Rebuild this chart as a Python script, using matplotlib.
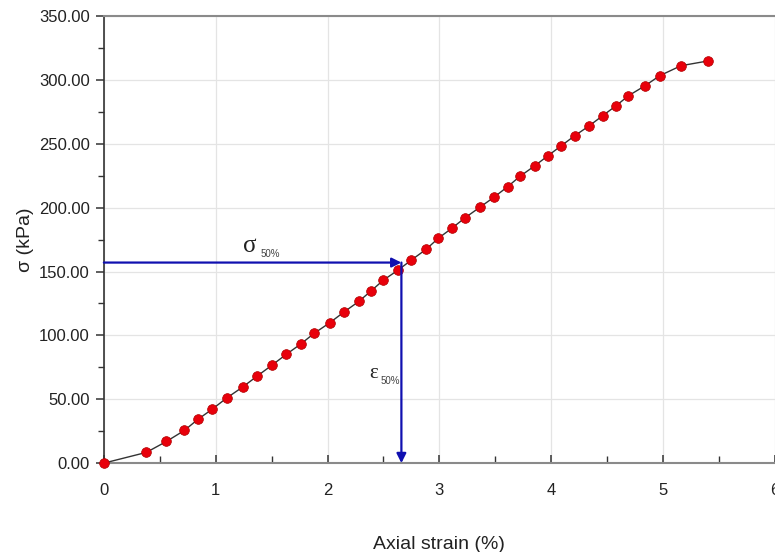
import numpy as np
import matplotlib
matplotlib.use("Agg")
import matplotlib.pyplot as plt
from matplotlib.ticker import MultipleLocator, FormatStrFormatter

plt.rcParams['font.family'] = ['Liberation Sans', 'DejaVu Sans']

# data: axial strain (%) and deviator stress (kPa)
strain = [0.0, 0.38, 0.56, 0.72, 0.84, 0.97, 1.10, 1.24, 1.37, 1.50, 1.63,
          1.76, 1.88, 2.02, 2.15, 2.28, 2.39, 2.50, 2.63, 2.75, 2.88, 2.99,
          3.11, 3.23, 3.36, 3.49, 3.61, 3.72, 3.85, 3.97, 4.09, 4.21, 4.34,
          4.46, 4.58, 4.69, 4.84, 4.97, 5.16, 5.40]
stress = [0.0, 8.4, 17.0, 25.6, 34.2, 42.3, 51.1, 59.5, 68.1, 76.5, 85.1,
          93.2, 101.6, 109.9, 118.5, 126.6, 134.9, 143.3, 151.1, 159.0, 167.3,
          176.0, 183.8, 192.1, 200.2, 208.3, 216.4, 224.5, 232.6, 240.6, 248.5,
          256.3, 264.1, 272.0, 279.8, 287.6, 295.5, 303.3, 311.1, 314.8]

sigma50 = 157.0
eps50 = 2.66

fig = plt.figure(figsize=(7.75, 5.52), dpi=100)
ax = fig.add_axes([0.134, 0.161, 0.866, 0.810])

ax.plot(strain, stress, color='#333333', lw=1.0, zorder=3)
ax.plot(strain, stress, 'o', color='#e8000b', markeredgecolor='#b00000',
        markeredgewidth=0.5, markersize=7, zorder=4, clip_on=False)

# sigma50 / eps50 arrows
arrow = dict(arrowstyle='-|>', color='#1010b0', lw=1.6, mutation_scale=14,
             shrinkA=0, shrinkB=0)
ax.annotate('', xy=(eps50, sigma50), xytext=(0, sigma50), arrowprops=arrow, zorder=5)
ax.annotate('', xy=(eps50, 0), xytext=(eps50, sigma50), arrowprops=arrow, zorder=5)

# labels: serif greek letter + small sans subscript
ax.text(1.245, 161, 'σ', fontsize=18, family='Liberation Serif', color='#222222',
        ha='left', va='bottom')
ax.text(1.40, 160, '50%', fontsize=7, color='#444444', ha='left', va='bottom')
ax.text(2.37, 63, 'ε', fontsize=15, family='Liberation Serif', color='#222222',
        ha='left', va='bottom')
ax.text(2.47, 60, '50%', fontsize=7, color='#444444', ha='left', va='bottom')

ax.set_xlim(0, 6)
ax.set_ylim(0, 350)
ax.xaxis.set_major_locator(MultipleLocator(1))
ax.xaxis.set_minor_locator(MultipleLocator(0.5))
ax.yaxis.set_major_locator(MultipleLocator(50))
ax.yaxis.set_minor_locator(MultipleLocator(25))
ax.yaxis.set_major_formatter(FormatStrFormatter('%.2f'))

ax.grid(True, which='major', color='#e4e4e4', lw=0.9)
ax.set_axisbelow(True)

for s in ['top', 'bottom']:
    ax.spines[s].set_color('#8a8a8a')
    ax.spines[s].set_linewidth(1.5)
ax.spines['left'].set_color('#333333')
ax.spines['left'].set_linewidth(1.2)
ax.spines['right'].set_visible(False)

ax.tick_params(axis='y', which='major', direction='out', length=6, width=1.1,
               colors='#333333', labelsize=12, pad=4, labelcolor='#222222')
ax.tick_params(axis='y', which='minor', direction='out', length=4, width=1.0,
               colors='#333333')
ax.tick_params(axis='x', which='major', direction='in', length=6, width=1.1,
               colors='#333333', labelsize=12, pad=14, labelcolor='#222222')
ax.tick_params(axis='x', which='minor', direction='in', length=5, width=1.0,
               colors='#333333')
ax.tick_params(top=False, right=False, which='both')

ax.set_xlabel('Axial strain (%)', fontsize=14, color='#222222', labelpad=28)
ax.set_ylabel('σ (kPa)', fontsize=14, color='#222222', labelpad=4)

fig.savefig('out.png', dpi=100)
